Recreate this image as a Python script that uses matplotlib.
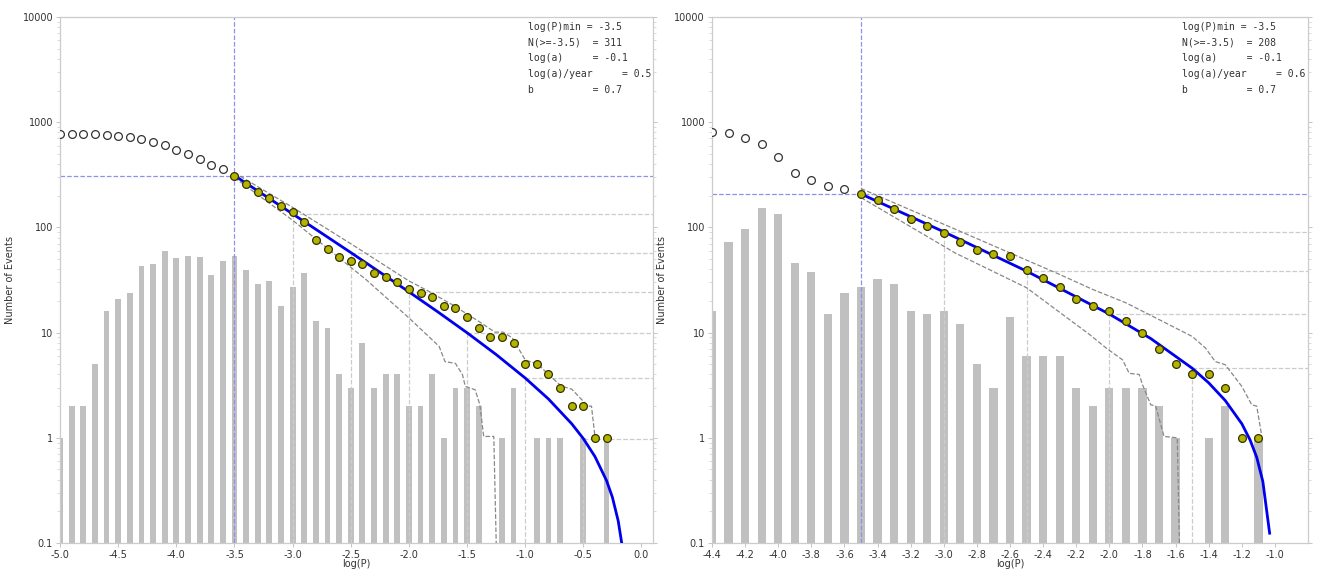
import numpy as np
import matplotlib
matplotlib.use("Agg")
import matplotlib.pyplot as plt

# ---- left panel data ----
L_bins = np.round(np.arange(-5.0, -0.25, 0.1), 1)
L_counts = [1, 2, 2, 5, 16, 21, 24, 43, 45, 60,
            51, 53, 52, 35, 48, 54, 39, 29, 31, 18,
            27, 37, 13, 11, 4, 3, 8, 3, 4, 4,
            2, 2, 4, 1, 3, 3, 2, 0, 1, 3,
            0, 1, 1, 1, 0, 1, 0, 1]
L_fit_x = [-3.5, -3.0, -2.5, -2.0, -1.75, -1.5, -1.25, -1.0, -0.8, -0.6,
           -0.5, -0.4, -0.3, -0.25, -0.2, -0.17, -0.15]
L_fit_n = [311, 134.4, 57.7, 24.4, 15.7, 9.97, 6.19, 3.70, 2.34, 1.36,
           0.983, 0.663, 0.391, 0.272, 0.162, 0.1, 0.06]
L_up_x = [-3.5, -3.0, -2.5, -2.0, -1.83, -1.63, -1.4, -1.26, -1.19, -1.11,
          -1.0, -0.89, -0.81, -0.69, -0.6, -0.46, -0.43, -0.40, -0.37]
L_up_n = [330, 155, 70, 31, 24.7, 18.5, 12.8, 10.1, 10.1, 8.9,
          5.5, 5.0, 4.1, 3.1, 2.9, 2.0, 2.0, 1.03, 1.0]
L_lo_x = [-3.5, -3.0, -2.37, -2.0, -1.74, -1.69, -1.60, -1.54, -1.515, -1.43,
          -1.39, -1.357, -1.27, -1.243]
L_lo_n = [297, 117, 32, 13.8, 7.4, 5.3, 5.1, 4.0, 3.08, 2.86,
          2.06, 1.03, 1.03, 0.05]
L_ref_x = [-3.0, -2.5, -2.0, -1.5, -1.0, -0.5]
L_ref_n = [134.4, 57.7, 24.4, 9.97, 3.70, 0.983]
L_stats = ["log(P)min = -3.5", "N(>=-3.5)  = 311", "log(a)     = -0.1",
           "log(a)/year     = 0.5", "b          = 0.7"]

# ---- right panel data ----
R_bins = np.round(np.arange(-4.4, -1.05, 0.1), 1)
R_counts = [16, 72, 96, 154, 133, 46, 38, 15, 24, 27,
            32, 29, 16, 15, 16, 12, 5, 3, 14, 6,
            6, 6, 3, 2, 3, 3, 3, 2, 1, 0,
            1, 2, 0, 1]
R_fit_x = [-3.5, -3.0, -2.5, -2.0, -1.75, -1.5, -1.4, -1.3, -1.2, -1.15,
           -1.11, -1.073, -1.032]
R_fit_n = [208, 90.8, 38.4, 15.0, 8.78, 4.59, 3.33, 2.26, 1.36, 0.953,
           0.653, 0.384, 0.124]
R_up_x = [-3.5, -2.93, -2.30, -2.10, -1.90, -1.70, -1.50, -1.42, -1.36, -1.30,
          -1.20, -1.14, -1.11, -1.08]
R_up_n = [234, 96, 35.7, 25.7, 19.2, 13.3, 9.2, 7.15, 5.3, 4.95,
          3.08, 2.06, 2.0, 1.05]
R_lo_x = [-3.5, -2.93, -2.50, -2.12, -2.02, -1.92, -1.88, -1.82, -1.80, -1.75,
          -1.72, -1.67, -1.59, -1.573]
R_lo_n = [192, 57, 26.7, 9.6, 7.15, 5.5, 4.1, 4.0, 3.2, 2.06,
          2.0, 1.03, 1.0, 0.05]
R_ref_x = [-3.0, -2.5, -2.0, -1.5]
R_ref_n = [90.8, 38.4, 15.0, 4.59]
R_stats = ["log(P)min = -3.5", "N(>=-3.5)  = 208", "log(a)     = -0.1",
           "log(a)/year     = 0.6", "b          = 0.7"]

xmin_fit = -3.5


def panel(ax, bins, counts, fit_x, fit_n, up_x, up_n, lo_x, lo_n,
          ref_x, ref_n, n_min, stats, xlim, xticks):
    counts = np.array(counts)
    # cumulative number of events N(>=x)
    cum = np.cumsum(counts[::-1])[::-1]
    keep = cum > 0
    bx, cn = bins[keep], cum[keep]

    ax.set_yscale('log')
    ax.set_xlim(*xlim)
    ax.set_ylim(0.1, 10000)

    nz = counts > 0
    ax.bar(bins[nz], counts[nz] - 0.1, width=0.05, bottom=0.1,
           color='#c0c0c0', zorder=1)

    # projection lines of the fit
    for x, n in zip(ref_x, ref_n):
        ax.plot([x, x], [0.1, n], ls='--', color='#cccccc', lw=0.9, zorder=2)
        ax.plot([x, xlim[1]], [n, n], ls='--', color='#cccccc', lw=0.9, zorder=2)

    ax.axvline(xmin_fit, ls='--', color='#9090ee', lw=0.9, zorder=2)
    ax.axhline(n_min, ls='--', color='#9090ee', lw=0.9, zorder=2)

    ax.plot(up_x, up_n, ls='--', color='#888888', lw=0.9, zorder=3)
    ax.plot(lo_x, lo_n, ls='--', color='#888888', lw=0.9, zorder=3)
    ax.plot(fit_x, fit_n, color='#0000ee', lw=2, zorder=4)

    below = bx < xmin_fit - 1e-6
    ax.plot(bx[below], cn[below], 'o', ms=5.6, mfc='white', mec='#333333',
            mew=0.9, zorder=5)
    ax.plot(bx[~below], cn[~below], 'o', ms=5.6, mfc='#b4b400', mec='#333300',
            mew=0.9, zorder=5)

    for i, s in enumerate(stats):
        ax.text(0.789, 0.981 - i * 0.0298, s, transform=ax.transAxes,
                family='DejaVu Sans Mono', fontsize=7, color='#333333',
                ha='left', va='center')

    ax.set_xticks(xticks)
    ax.set_xticklabels(['%.1f' % t for t in xticks])
    ax.set_yticks([0.1, 1, 10, 100, 1000, 10000])
    ax.set_yticklabels(['0.1', '1', '10', '100', '1000', '10000'])
    ax.tick_params(axis='both', which='major', labelsize=7, colors='#bbbbbb',
                   labelcolor='#333333', length=3, width=0.6, pad=2)
    ax.tick_params(axis='y', which='both', left=True, right=True)
    ax.tick_params(axis='y', which='minor', length=2, width=0.5, colors='#cccccc')
    for sp in ax.spines.values():
        sp.set_color('#cccccc')
        sp.set_linewidth(0.9)
    ax.set_xlabel('log(P)', fontsize=7, color='#333333')
    ax.set_ylabel('Number of Events', fontsize=7, color='#333333')
    ax.xaxis.set_label_coords(0.5, -0.03)
    ax.yaxis.set_label_coords(-0.076, 0.5)


fig = plt.figure(figsize=(13.17, 5.74), dpi=100)
ax1 = fig.add_axes([0.0456, 0.054, 0.4503, 0.9164])
ax2 = fig.add_axes([0.5406, 0.054, 0.4526, 0.9164])

panel(ax1, L_bins, L_counts, L_fit_x, L_fit_n, L_up_x, L_up_n, L_lo_x, L_lo_n,
      L_ref_x, L_ref_n, 311, L_stats, (-5.0, 0.1),
      np.round(np.arange(-5.0, 0.01, 0.5), 1))
panel(ax2, R_bins, R_counts, R_fit_x, R_fit_n, R_up_x, R_up_n, R_lo_x, R_lo_n,
      R_ref_x, R_ref_n, 208, R_stats, (-4.4, -0.8),
      np.round(np.arange(-4.4, -0.99, 0.2), 1))

fig.savefig('out.png', dpi=100)
